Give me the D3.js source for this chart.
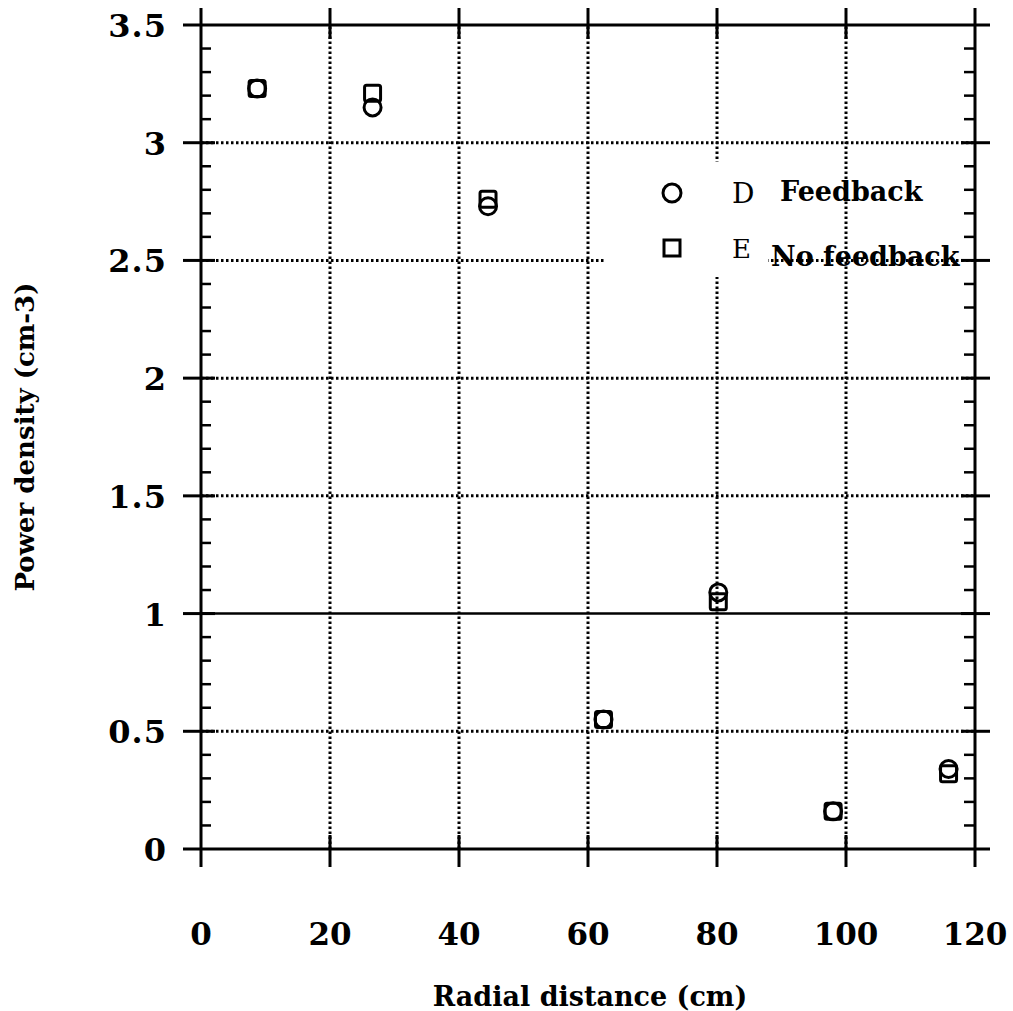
<!DOCTYPE html>
<html>
<head>
<meta charset="utf-8">
<script src="https://cdn.jsdelivr.net/npm/d3@7"></script>
<style>
  body { margin: 0; background: #fff; }
  text { font-family: "DejaVu Serif", "Liberation Serif", serif; fill: #000; }
</style>
</head>
<body>
<div id="chart"></div>
<script>
// data
const radial = [8.7, 26.6, 44.5, 62.4, 80.2, 98.0, 115.9];
const feedback = [3.23, 3.15, 2.73, 0.55, 1.09, 0.16, 0.34];
const noFeedback = [3.23, 3.21, 2.76, 0.55, 1.05, 0.16, 0.32];
const xTicks = [0, 20, 40, 60, 80, 100, 120];
const yTicks = [0, 0.5, 1, 1.5, 2, 2.5, 3, 3.5];
const yTickLabels = ["0", "0.5", "1", "1.5", "2", "2.5", "3", "3.5"];

const width = 1013, height = 1011;
const x = d3.scaleLinear().domain([0, 120]).range([201, 975]);
const y = d3.scaleLinear().domain([0, 3.5]).range([849, 25]);

const svg = d3.select("#chart").append("svg")
    .attr("width", width)
    .attr("height", height);

// dotted grid
const grid = svg.append("g").attr("stroke", "#000").attr("stroke-width", 3)
    .attr("stroke-dasharray", "2.5,2.5");
grid.selectAll(".gx")
    .data(xTicks.slice(1, -1))
    .enter().append("line")
    .attr("x1", d => x(d)).attr("x2", d => x(d))
    .attr("y1", y(0)).attr("y2", y(3.5));
grid.selectAll(".gy")
    .data(yTicks.slice(1, -1).filter(d => d !== 1))
    .enter().append("line")
    .attr("x1", x(0)).attr("x2", x(120))
    .attr("y1", d => y(d)).attr("y2", d => y(d));

// the line at 1 is solid in the original
svg.append("line")
    .attr("x1", x(0)).attr("x2", x(120))
    .attr("y1", y(1)).attr("y2", y(1))
    .attr("stroke", "#000").attr("stroke-width", 2.5);

// legend background hides grid
svg.append("rect")
    .attr("x", 606).attr("y", 162).attr("width", 162).attr("height", 115)
    .attr("fill", "#fff");

// frame
const frame = svg.append("g").attr("stroke", "#000").attr("stroke-width", 3);
frame.append("line").attr("x1", x(0) - 18).attr("x2", x(120) + 15)
    .attr("y1", y(0)).attr("y2", y(0));
frame.append("line").attr("x1", x(0) - 18).attr("x2", x(120) + 15)
    .attr("y1", y(3.5)).attr("y2", y(3.5));
frame.append("line").attr("x1", x(0)).attr("x2", x(0))
    .attr("y1", y(3.5) - 17).attr("y2", y(0) + 18);
frame.append("line").attr("x1", x(120)).attr("x2", x(120))
    .attr("y1", y(3.5) - 17).attr("y2", y(0) + 18);

// major ticks
const yMajor = yTicks.slice(1, -1);
frame.selectAll(".ly").data(yMajor).enter().append("line")
    .attr("x1", x(0) - 18).attr("x2", x(0) + 14)
    .attr("y1", d => y(d)).attr("y2", d => y(d));
frame.selectAll(".ry").data(yMajor).enter().append("line")
    .attr("x1", x(120) - 14).attr("x2", x(120) + 15)
    .attr("y1", d => y(d)).attr("y2", d => y(d));
const xMajor = xTicks.slice(1, -1);
frame.selectAll(".bx").data(xMajor).enter().append("line")
    .attr("x1", d => x(d)).attr("x2", d => x(d))
    .attr("y1", y(0) - 14).attr("y2", y(0) + 18);
frame.selectAll(".tx").data(xMajor).enter().append("line")
    .attr("x1", d => x(d)).attr("x2", d => x(d))
    .attr("y1", y(3.5) - 17).attr("y2", y(3.5) + 14);

// minor ticks on left and right
const minor = d3.range(0, 35).map(i => i / 10).filter(d => Math.round(d * 10) % 5 !== 0);
const minorG = svg.append("g").attr("stroke", "#000").attr("stroke-width", 2.5);
minorG.selectAll(".ml").data(minor).enter().append("line")
    .attr("x1", x(0)).attr("x2", x(0) + 10)
    .attr("y1", d => y(d)).attr("y2", d => y(d));
minorG.selectAll(".mr").data(minor).enter().append("line")
    .attr("x1", x(120) - 11).attr("x2", x(120))
    .attr("y1", d => y(d)).attr("y2", d => y(d));

// tick labels
svg.selectAll(".ylab").data(yTicks).enter().append("text")
    .attr("x", 167)
    .attr("y", d => y(d) + 12)
    .attr("text-anchor", "end")
    .attr("font-size", 32).attr("font-weight", "bold")
    .attr("letter-spacing", 1)
    .text((d, i) => yTickLabels[i]);
svg.selectAll(".xlab").data(xTicks).enter().append("text")
    .attr("x", d => x(d))
    .attr("y", 945)
    .attr("text-anchor", "middle")
    .attr("font-size", 31).attr("font-weight", "bold")
    .text(d => d);

// axis titles
svg.append("text")
    .attr("x", 590).attr("y", 1006)
    .attr("text-anchor", "middle")
    .attr("font-size", 27).attr("font-weight", "bold")
    .text("Radial distance (cm)");
svg.append("text")
    .attr("transform", "translate(34,437) rotate(-90)")
    .attr("text-anchor", "middle")
    .attr("font-size", 26).attr("font-weight", "bold")
    .text("Power density (cm-3)");

// markers
const marks = svg.append("g").attr("fill", "none").attr("stroke", "#000").attr("stroke-width", 3);
marks.selectAll(".sq").data(radial).enter().append("rect")
    .attr("x", (d, i) => x(d) - 8)
    .attr("y", (d, i) => y(noFeedback[i]) - 8)
    .attr("width", 16).attr("height", 16)
    .attr("rx", 2);
marks.selectAll(".ci").data(radial).enter().append("circle")
    .attr("cx", d => x(d))
    .attr("cy", (d, i) => y(feedback[i]))
    .attr("r", 8.5);

// legend
const legend = svg.append("g");
legend.append("circle").attr("cx", 672).attr("cy", 193).attr("r", 9)
    .attr("fill", "none").attr("stroke", "#000").attr("stroke-width", 3);
legend.append("rect").attr("x", 664).attr("y", 240).attr("width", 16).attr("height", 16)
    .attr("fill", "none").attr("stroke", "#000").attr("stroke-width", 3);
legend.append("text").attr("x", 732).attr("y", 203)
    .attr("font-size", 28).text("D");
legend.append("text").attr("x", 732).attr("y", 258)
    .attr("font-size", 26).text("E");
legend.append("text").attr("x", 780).attr("y", 201)
    .attr("font-size", 27).attr("font-weight", "bold").text("Feedback");
legend.append("text").attr("x", 771).attr("y", 266)
    .attr("font-size", 27).attr("font-weight", "bold").text("No feedback");
</script>
</body>
</html>
